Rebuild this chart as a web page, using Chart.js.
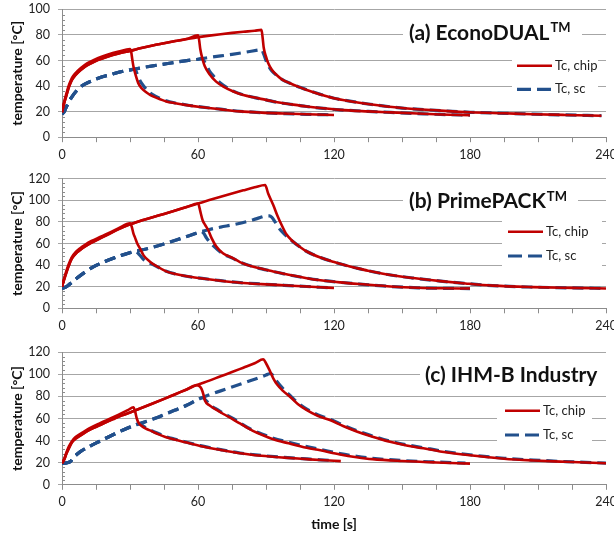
<!DOCTYPE html>
<html><head><meta charset="utf-8">
<script src="https://cdn.jsdelivr.net/npm/chart.js@4.4.1/dist/chart.umd.min.js"></script>
<style>
html,body{margin:0;padding:0;background:#fff;}
#wrap{position:relative;width:614px;height:538px;overflow:hidden;}
canvas{position:absolute;left:0;}
</style></head><body>
<div id="wrap">
<canvas id="cA" width="614" height="170" style="top:0"></canvas>
<canvas id="cB" width="614" height="170" style="top:170px"></canvas>
<canvas id="cC" width="614" height="198" style="top:340px"></canvas>
</div>
<script>
// ---------- data: [time s, temperature °C] ----------
// (a) EconoDUAL
const aChipHeat30 = [[0,19.5],[1,28],[2,34.5],[3,40.5],[4,45],[5,48],[7,52],[10,56.5],[13,59.5],[16,62],[20,64.5],[25,67],[30,69]];
const aChipHeat = [[0,19.5],[1,27],[2,33],[3,39],[4,43.5],[5,46.5],[7,50.5],[10,55],[13,58],[16,60.5],[20,63],[25,65.5],[30,67.5],[35,69.8],[40,71.8],[45,73.5],[50,75.2],[55,76.8],[60,78.3],[65,79.5],[70,80.6],[75,81.6],[80,82.5],[85,83.3],[88,84]];
const aChipCool30 = [[30.5,67],[31,61],[31.5,55.5],[32.5,48.5],[33.6,42.5],[35,38.5],[37,35.3],[39,33],[42,30.6],[46,28],[50,26.6],[55,25.1],[61,23.6],[70,21.8],[78.5,20.2],[88,19.2],[98,18.5],[108,17.9],[120,17.4]];
const aChipCool60 = [[60,79.7],[60.5,76],[61,69],[62,61],[63,55.5],[65,49.5],[68,43.5],[71,39.8],[75.6,35.8],[80,33],[85,31],[90,29.2],[95,27.3],[100,26],[108,24],[114,22.8],[122.6,21.4],[135,20.2],[145,19.4],[157,18.5],[167,17.8],[180,17.2]];
const aChipCool90 = [[88.5,78],[89,70],[90,63],[91,57.8],[92.5,53],[94.7,48.7],[97,45.3],[100.6,42.2],[105,39],[108,37],[114,33.5],[120,30.5],[127,28.2],[135,26],[150,22.8],[167,20.8],[180,19.5],[195,18.7],[208,18],[222,17.4],[238,16.8]];
const aScHeat = [[0,18],[1,20],[2,24],[4,30.5],[6.5,36.5],[9,40.5],[12.4,43.5],[16,46.2],[21,48.8],[25,50.8],[30,52.6],[35,54.3],[40,55.8],[45,57.2],[50,58.6],[55,59.9],[60,61],[65,62.4],[70,63.6],[75,64.8],[80,66.2],[86.6,68.2]];
const aScCool30 = [[31.5,53.2],[32.5,52],[33.5,48],[34.5,44],[36,40],[38,36],[40,33.3],[43,30.6],[46,28.5],[50,26.8],[55,25.2],[61,23.7],[70,21.9],[78.5,20.3],[88,19.2],[98,18.5],[108,17.9],[119,17.5]];
const aScCool60 = [[61.5,61.5],[62.5,60],[63.5,57],[65,52],[67,47.5],[70,42.2],[75.6,36],[80,33.1],[85,31],[90,29.2],[95,27.3],[100,26],[108,24],[114,22.8],[122.6,21.4],[135,20.2],[145,19.4],[157,18.5],[167,17.8],[180,17.2]];
const aScCool90 = [[88,68.6],[89,65],[90,60],[91,56],[92.5,52],[94.7,48.5],[97,45.3],[100.6,42.2],[105,39],[108,37],[114,33.5],[120,30.5],[127,28.2],[135,26],[150,22.8],[167,20.8],[180,19.5],[195,18.7],[208,18],[222,17.4],[238,16.8]];

// (b) PrimePACK
const bChipHeat30 = [[0,20],[1,28],[2,35],[3,41],[4.3,47.2],[6,52],[8,55.5],[10,58.5],[13,62.3],[16.8,66],[20,69],[25,74.2],[30,78.7]];
const bChipHeat = [[0,20],[1,27],[2,33.5],[3,39.5],[4.3,46],[6,50.5],[8,54],[10,57],[13,60.8],[16.8,64.8],[20,68],[25,73.3],[30,77.8],[35,81.3],[40,84.4],[45,87.4],[50,90.5],[55,93.8],[60,97],[65,100.2],[70,103.3],[75,106.3],[80,109.2],[85,112],[89.6,114.2]];
const bChipCool30 = [[30.7,76],[31.5,69.4],[32.3,65],[33.2,60],[34.4,55.5],[36,49],[38.8,43.2],[42,38.7],[46,34.2],[50,31.7],[55,29.6],[61,27.8],[70,25.5],[78.5,23.7],[88,22.4],[98,21.3],[108,20.2],[114,19.5],[120,18.8]];
const bChipCool60 = [[60.3,96],[61,90],[62,81.8],[63.2,77],[64.5,72.5],[66,65],[68,57.5],[71,51],[75.6,46.3],[78.5,42.8],[84,38.7],[90.3,35.5],[93.2,34],[100,31],[108,27.9],[114,26],[122.6,24],[134,22],[145,20.2],[157,19],[167,18.5],[180,18.3]];
const bChipCool90 = [[91,106],[93.2,95.6],[95,86],[96.9,77.1],[99,68.5],[102,61.7],[105,56.8],[108,52.6],[114,47],[119.7,43],[125,39.8],[130,37.2],[135,34.8],[145,30.8],[155,28],[167,25.2],[178,23],[190,21],[208,19.6],[225,18.9],[240,18.4]];
const bScHeat = [[0,18.5],[2,20],[4,23.5],[6.5,27.8],[10,33.3],[13.8,38.3],[18,42.5],[22.6,46.3],[27,49.5],[31.5,52.4],[35,54],[38.8,55.8],[45,59.6],[50.4,63.2],[55,66.5],[61,70.8],[65,73],[70,75.2],[75.6,77.4],[81.5,80.2],[86,83],[90.5,85.5]];
const bScCool30 = [[32.5,52.8],[34,50],[36,45.2],[39,41.7],[42,38.5],[46,34.3],[50,31.8],[55,29.7],[61,27.9],[70,25.6],[78.5,23.8],[88,22.5],[98,21.3],[108,20.2],[114,19.5],[119,18.9]];
const bScCool60 = [[61.5,71.2],[62.5,69.5],[63.8,65],[66,59.5],[68,55.5],[71,50.5],[75.6,46],[78.5,42.8],[84,38.7],[90.3,35.5],[93.2,34],[100,31],[108,27.9],[114,26],[122.6,24],[134,22],[145,20.2],[157,19],[167,18.5],[180,18.3]];
const bScCool90 = [[91.5,85.5],[92.5,84.5],[94,80],[96.2,73],[98,69],[100,65],[102,61.5],[105,56.8],[108,52.6],[114,47],[119.7,43],[125,39.8],[130,37.2],[135,34.8],[145,30.8],[155,28],[167,25.2],[178,23],[190,21],[208,19.6],[225,18.9],[240,18.4]];

// (c) IHM-B Industry
const cChipHeat30 = [[0,19.6],[1,23.5],[2,29.5],[3,34.5],[4.4,39.5],[6,43.2],[9.4,47.8],[12,51],[16.8,55.8],[20,58.8],[25,63.5],[29,67.5],[31.5,70.2]];
const cChipHeat = [[0,19.6],[1,23],[2,28.5],[3,33],[4.4,38.5],[6,41.8],[7.3,43.5],[9.4,46.3],[11.7,49.2],[14,51.5],[16.8,54],[19.1,56.3],[23,59.8],[26.5,62.8],[30,65.5],[35,69.5],[40,73.5],[45.6,78.2],[50,82],[55,86.3],[59.4,90.2],[65,94.3],[70,98.2],[75,102],[80,106],[85,110],[88.8,113.6]];
const cChipCool30 = [[32.3,66],[33,60],[33.8,56],[35,53.5],[36.8,51],[38.8,49.2],[42,46.2],[45.6,43.2],[50,40.7],[55,38.2],[61,35.2],[70,31.6],[78.5,28.6],[88,26.3],[98,24.6],[108,23.2],[114,22.4],[123,21.4]];
const cChipCool60 = [[60.5,89.5],[61.5,87],[62.5,81],[63.1,76],[65,72],[68.2,67.8],[71,64.3],[75.6,59],[78.5,55.5],[84,49],[90.3,43.5],[93.2,41.2],[100,37.5],[108,33.5],[114,31.2],[122.6,27.5],[130,25],[137,23.2],[150,21.5],[165,20.2],[180,19.2]];
const cChipCool90 = [[90,110],[91.5,104],[93.2,96.4],[95,90.5],[97.5,85],[100.6,79.7],[104,73.2],[108,67.6],[113,62.3],[118.2,58.6],[124,53.2],[130,48.3],[137,43.5],[144.7,38.9],[152,35.6],[159.4,33],[166.8,30.2],[180,26.7],[195,23.6],[208,22],[222,20.8],[240,19.5]];
const cScHeat = [[0,19.5],[2,19.8],[3.7,21],[5,24.5],[8.1,30],[12,34.6],[16.2,39],[20,42.8],[23.5,46.3],[28,50.5],[32.3,54],[36,56.5],[41.1,60.2],[46.2,64.5],[50,67.6],[55,72],[61,78.2],[65,81.5],[70,85],[75,88.5],[80,92],[85,95.5],[90,99.3],[91.5,100.5]];
const cScCool30 = [[34,55.5],[35.5,53.5],[37,51.5],[39,49.5],[42,46.8],[45.6,43.8],[50,41.2],[55,38.5],[61,35.5],[70,31.8],[78.5,28.8],[88,26.5],[98,24.8],[108,23.4],[114,22.6],[120,22]];
const cScCool60 = [[62,78.8],[63,77.5],[64.5,74],[66,71],[68.2,68.5],[71,65],[75.6,59.8],[78.5,56],[84,49.5],[90.3,44.5],[93.2,42.2],[100,38.5],[108,34.5],[114,32],[122.6,28.3],[130,25.8],[137,24],[150,22],[165,20.6],[178,19.6]];
const cScCool90 = [[92.2,100.5],[93.2,98.5],[95,93],[97.5,87],[100.6,80.8],[104,74.2],[108,68.5],[113,63.2],[118.2,59.5],[124,54],[130,49],[137,44.2],[144.7,39.6],[152,36.2],[159.4,33.6],[166.8,30.8],[180,27.2],[195,24],[208,22.4],[222,21],[240,19.7]];

const seriesNames = ['Tc, chip', 'Tc, sc'];
const xTicks = [0, 60, 120, 180, 240];

// ---------- helpers ----------
const RED = '#c00000', BLUE = '#22508c', GRID = '#a6a6a6', AXIS = '#8c8c8c';
const FONT = 'Lato, "Open Sans", "DejaVu Sans", sans-serif';
Chart.defaults.font.family = FONT;
Chart.defaults.color = '#222';

// one test run = heating part until the switch-off, then the cooling part
const run = (heat, cool) => heat.filter(p => p[0] < cool[0][0]).concat(cool).map(([x, y]) => ({x, y}));
const chipDs = (data, i) => ({label: seriesNames[0], data, borderColor: RED, borderWidth: 2.6, pointRadius: 0, cubicInterpolationMode: 'monotone', legendShow: i === 0});
const scDs = (data, i) => ({label: seriesNames[1], data, borderColor: BLUE, borderWidth: 3.2, borderDash: [11, 6], pointRadius: 0, cubicInterpolationMode: 'monotone', legendShow: i === 0});

const decor = {
  id: 'decor',
  beforeDatasetsDraw(chart) {
    // minor ticks on the value axis
    const {ctx, chartArea: ca, scales: {y}} = chart;
    ctx.save(); ctx.strokeStyle = AXIS; ctx.lineWidth = 1;
    for (let v = 0; v <= y.max; v += 4) {
      if (v % 20 === 0) continue;
      const py = Math.round(y.getPixelForValue(v)) + 0.5;
      ctx.beginPath(); ctx.moveTo(ca.left, py); ctx.lineTo(ca.left + 3, py); ctx.stroke();
    }
    ctx.restore();
  },
  afterDatasetsDraw(chart, args, o) {
    const {ctx} = chart;
    ctx.save();
    ctx.fillStyle = '#fff';
    ctx.fillRect(...o.titleBox);
    ctx.fillRect(...o.legBox);
    // panel title with TM superscript
    ctx.fillStyle = '#111'; ctx.textBaseline = 'middle'; ctx.textAlign = 'left';
    ctx.font = `bold 21px ${FONT}`;
    ctx.fillText(o.title, o.titleAt[0], o.titleAt[1]);
    if (o.sup) {
      const w = ctx.measureText(o.title).width;
      ctx.font = `bold 13px ${FONT}`;
      ctx.fillText(o.sup, o.titleAt[0] + w + 1, o.titleAt[1] - 5);
    }
    // legend
    ctx.font = `13px ${FONT}`;
    const shown = chart.data.datasets.filter(d => d.legendShow);
    shown.forEach((d, i) => {
      const yy = o.legAt[1] + i * o.legGap;
      ctx.strokeStyle = d.borderColor; ctx.lineWidth = d.borderWidth;
      ctx.setLineDash(d.borderDash ? [14, 6] : []);
      ctx.beginPath(); ctx.moveTo(o.legAt[0], yy); ctx.lineTo(o.legAt[0] + 35, yy); ctx.stroke();
      ctx.setLineDash([]);
      ctx.fillStyle = '#222';
      ctx.fillText(d.label, o.legAt[0] + 38, yy);
    });
    ctx.restore();
  }
};

function panel(id, yMax, chip, sc, p) {
  new Chart(document.getElementById(id), {
    type: 'line',
    data: {datasets: [...chip.map(chipDs), ...sc.map(scDs)]},
    plugins: [decor],
    options: {
      responsive: false, animation: false, devicePixelRatio: 1,
      layout: {padding: {top: p.top, right: 8, left: 0, bottom: 0}},
      plugins: {legend: {display: false}, tooltip: {enabled: false}, decor: p},
      scales: {
        x: {type: 'linear', min: 0, max: 240,
          afterFit: s => { s.height = p.xH; s.paddingLeft = 0; s.paddingRight = 0; },
          ticks: {stepSize: 15, autoSkip: false, maxRotation: 0, padding: 5, font: {size: 12.5},
            callback: v => xTicks.includes(v) ? v : ''},
          grid: {drawOnChartArea: false, drawTicks: true, tickLength: 5, color: AXIS},
          border: {color: AXIS},
          title: {display: !!p.xTitle, text: p.xTitle || '', font: {size: 14, weight: 'bold'}, color: '#111', padding: {top: 0, bottom: 5}}},
        y: {min: 0, max: yMax,
          afterFit: s => { s.width = 62; s.paddingTop = 0; s.paddingBottom = 0; },
          ticks: {stepSize: 20, padding: 8, font: {size: 12.5}},
          grid: {color: GRID, tickLength: 4},
          border: {color: AXIS},
          title: {display: true, text: 'temperature [°C]', font: {size: 14, weight: 'bold'}, color: '#111', padding: {top: 9, bottom: 0}}}
      }
    }
  });
}

panel('cA', 100,
  [run(aChipHeat30, aChipCool30), run(aChipHeat, aChipCool60), run(aChipHeat, aChipCool90)],
  [run(aScHeat, aScCool30), run(aScHeat, aScCool60), run(aScHeat, aScCool90)],
  {top: 9.4, xH: 32.8, title: '(a) EconoDUAL', sup: 'TM', titleAt: [409, 33], titleBox: [403, 20, 179, 28],
   legBox: [512, 50, 86, 50], legAt: [517, 65.7], legGap: 23.6});

panel('cB', 120,
  [run(bChipHeat30, bChipCool30), run(bChipHeat, bChipCool60), run(bChipHeat, bChipCool90)],
  [run(bScHeat, bScCool30), run(bScHeat, bScCool60), run(bScHeat, bScCool90)],
  {top: 8.7, xH: 31.7, title: '(b) PrimePACK', sup: 'TM', titleAt: [409, 31.7], titleBox: [403, 20, 175, 25],
   legBox: [502, 46, 100, 54], legAt: [508, 61.7], legGap: 24.3});

panel('cC', 120,
  [run(cChipHeat30, cChipCool30), run(cChipHeat, cChipCool60), run(cChipHeat, cChipCool90)],
  [run(cScHeat, cScCool30), run(cScHeat, cScCool60), run(cScHeat, cScCool90)],
  {top: 12.2, xH: 53.2, xTitle: 'time [s]', title: '(c) IHM-B Industry', sup: '', titleAt: [425, 35], titleBox: [420, 22, 188, 26],
   legBox: [497, 60, 95, 45], legAt: [505, 70.7], legGap: 24.3});
</script>
</body></html>
